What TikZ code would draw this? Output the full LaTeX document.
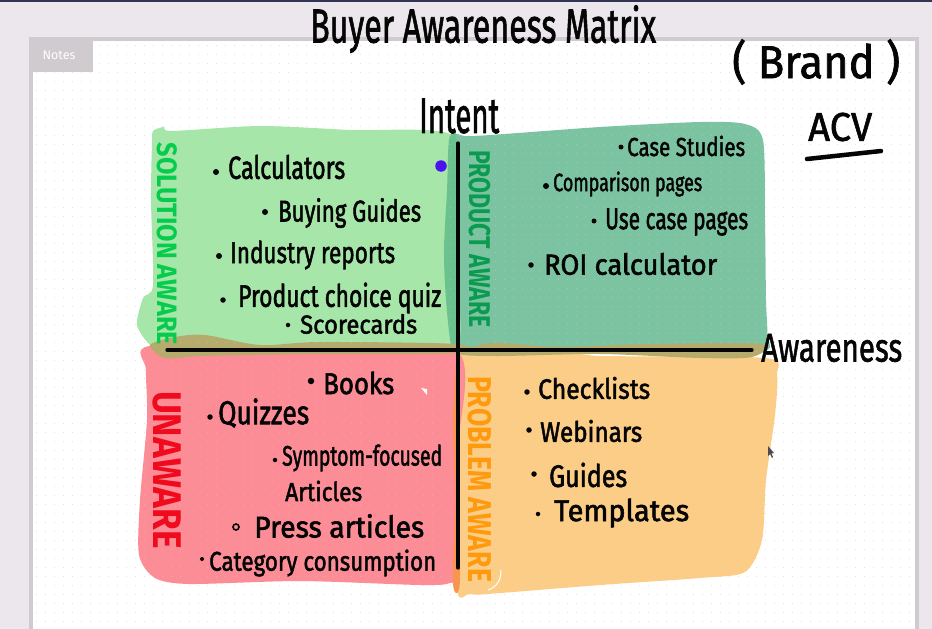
\documentclass[tikz,border=0pt]{standalone}
\usepackage{fontspec}
\usepackage{graphicx}
\setmainfont{Fira Sans}
\newfontfamily\handf{Fira Sans}[FakeBold=2]
\newfontfamily\headf{Fira Sans}[FakeBold=1.6]
\definecolor{pagebg}{HTML}{EBE7EC}
\definecolor{framec}{HTML}{CFCBCF}
\definecolor{dotc}{HTML}{C9C9C9}
\definecolor{gfill}{HTML}{A6E6A9}
\definecolor{tfill}{HTML}{7CC3A2}
\definecolor{rfill}{HTML}{FC8C95}
\definecolor{ofill}{HTML}{FBCD86}
\definecolor{gtover}{HTML}{6CC28F}
\definecolor{olive}{HTML}{B5AB6C}
\definecolor{orover}{HTML}{F99451}
\definecolor{ink}{HTML}{050505}
\definecolor{lsol}{HTML}{05CC4C}
\definecolor{lprod}{HTML}{0A9A50}
\definecolor{lun}{HTML}{F00A1E}
\definecolor{lprob}{HTML}{FF9A0E}
\definecolor{marker}{HTML}{4B12F0}
\tikzset{
  hand/.style={anchor=west,inner sep=0pt,text=ink},
  side/.style={anchor=center,inner sep=0pt,rotate=-90,font=\bfseries},
  bul/.style={circle,fill=ink,inner sep=0pt,minimum size=#1},
  axis/.style={draw=ink,line width=3.2pt,line cap=round},
}
% name, x, y, width, size, text
\newcommand{\hw}[6]{\node[hand] (#1) at (#2,#3) {\handf\fontsize{#5}{#5}\selectfont\resizebox{#4pt}{\height}{#6}};}
\newcommand{\hd}[6]{\node[hand] (#1) at (#2,#3) {\headf\fontsize{#5}{#5}\selectfont\resizebox{#4pt}{\height}{#6}};}
% name, x, ymid, length, size, colour, text
\newcommand{\sd}[7]{\node[side,text=#6] (#1) at (#2,#3) {\fontsize{#5}{#5}\selectfont\resizebox{#4pt}{\height}{#7}};}
\begin{document}
\begin{tikzpicture}[x=1pt,y=-1pt]
\useasboundingbox (0,0) rectangle (932,629);
\fill[pagebg] (0,0) rectangle (932,629);
\fill[black!85!blue!80] (0,0) rectangle (932,1.5);
% board
\fill[framec] (29,37) rectangle (919,629);
\fill[white] (33,41) rectangle (915,629);
\fill[framec] (29,37) rectangle (93,72);
% quadrant fills
\fill[ofill] plot[smooth cycle,tension=.45] coordinates {(458,352) (600,356) (765,358) (777,375) (775,415) (766,480) (762,540) (745,572) (700,578) (600,585) (500,593) (470,594) (456,580)};
\fill[rfill] plot[smooth cycle,tension=.45] coordinates {(150,346) (300,348) (456,350) (458,450) (458,570) (450,583) (420,585) (300,581) (190,584) (155,578) (139,555) (140,500) (147,420) (146,370)};
\fill[tfill] plot[smooth cycle,tension=.45] coordinates {(449,140) (458,134) (475,136) (600,127) (700,122) (745,124) (763,140) (765,220) (766,300) (767,335) (758,352) (600,350) (470,352) (452,345) (445,300) (445,200)};
\fill[gfill] plot[smooth cycle,tension=.45] coordinates {(152,142) (153,131) (164,127) (172,131) (260,126) (350,130) (452,135) (452,200) (450,260) (453,348) (300,346) (165,351) (150,345) (137,325) (143,298) (153,285) (151,200)};
% overlaps
\fill[gtover] plot[smooth cycle,tension=.5] coordinates {(449,140) (456,134) (458,200) (458,300) (457,347) (451,345) (446,300) (444,250) (447,190)};
\fill[olive] plot[smooth cycle,tension=.5] coordinates {(150,345) (175,337) (205,335) (260,345) (320,342) (456,344) (456,353) (300,354) (200,356) (165,358)};
\fill[olive] plot[smooth cycle,tension=.5] coordinates {(460,354) (490,343) (560,347) (650,344) (762,344) (752,357) (700,358) (600,354) (500,356)};
\fill[orover] plot[smooth cycle,tension=.5] coordinates {(457,352) (459,360) (457,450) (460,580) (453,584) (455,500) (453,420)};
% dot grid
\foreach \yy in {45,54,...,625}
  \draw[dotc,line width=.9pt,dash pattern=on .9pt off 8.1pt,opacity=.55] (36,\yy) -- (913,\yy);
% notes label
\node[inner sep=0pt,text=white,font=\fontsize{12.5}{12.5}\selectfont] (notes) at (59,55) {Notes};
% axes
\coordinate (vtop) at (458,143);
\coordinate (vbot) at (458,568);
\coordinate (hleft) at (167,350);
\coordinate (hright) at (752,350);
\draw[axis] (vtop) -- (vbot);
\draw[axis] (hleft) -- (hright);
% headings
\hd{title}{310}{29}{346}{48}{Buyer Awareness Matrix}
\hd{brand}{732}{62}{168}{46}{( Brand )}
\hd{acv}{808}{127}{64}{40}{ACV}
\coordinate (ula) at (807,159);
\coordinate (ulb) at (881,151);
\draw[ink,line width=4.5pt,line cap=round] (ula) -- (ulb);
\hd{intent}{419}{116}{80}{50}{Intent}
\hd{aware}{761}{348}{141}{40}{Awareness}
% side labels
\sd{sola}{167}{244}{202}{28}{lsol}{SOLUTION  AWARE}
\sd{proa}{480}{239}{178}{30}{lprod}{PRODUCT  AWARE}
\sd{una}{167}{470}{158}{40}{lun}{UNAWARE}
\sd{proba}{480}{479}{206}{33}{lprob}{PROBLEM  AWARE}
% purple dot
\node[circle,fill=marker,inner sep=0pt,minimum size=11.5pt] (markerdot) at (441,166) {};
% green
\node[bul=6pt] (b1) at (216,172) {};
\hw{t1}{228}{167}{117}{32}{Calculators}
\node[bul=6pt] (b2) at (265,212) {};
\hw{t2}{278}{213}{143}{30}{Buying Guides}
\node[bul=6pt] (b3) at (219,256) {};
\hw{t3}{230}{255}{165}{30}{Industry reports}
\node[bul=5.5pt] (b4) at (223,300) {};
\hw{t4}{238}{298}{203}{31}{Product choice quiz}
\node[bul=4.5pt] (b5) at (288,325) {};
\hw{t5}{300}{324}{117}{26}{Scorecards}
% teal
\node[bul=5pt] (b6) at (621,147) {};
\hw{t6}{627}{146}{118}{26}{Case Studies}
\node[bul=6pt] (b7) at (546,186) {};
\hw{t7}{553}{184}{149}{25}{Comparison pages}
\node[bul=5pt] (b8) at (594,221) {};
\hw{t8}{605}{222}{143}{30}{Use case pages}
\node[bul=5.5pt] (b9) at (531,265) {};
\hw{t9}{544}{264}{173}{29}{ROI calculator}
% red
\node[bul=6.5pt] (b10) at (311,381) {};
\hw{t10}{323}{383}{71}{30}{Books}
\node[bul=5.5pt] (b11) at (210,417) {};
\hw{t11}{218}{413}{91}{33}{Quizzes}
\node[bul=4.5pt] (b12) at (275,460) {};
\hw{t12}{282}{458}{160}{28}{Symptom-focused}
\hw{t13}{285}{491}{77}{26}{Articles}
\node[draw=ink,circle,line width=1.6pt,inner sep=0pt,minimum size=6pt] (b14) at (236,527) {};
\hw{t14}{254}{526}{170}{30}{Press articles}
\node[bul=4pt] (b15) at (202,559) {};
\hw{t15}{209}{563}{227}{27}{Category consumption}
% orange
\node[bul=5.5pt] (b16) at (527,392) {};
\hw{t16}{538}{388}{112}{28}{Checklists}
\node[bul=5.5pt] (b17) at (529,430) {};
\hw{t17}{540}{431}{102}{28}{Webinars}
\node[bul=5.5pt] (b18) at (534,474) {};
\hw{t18}{549}{475}{78}{31}{Guides}
\node[bul=4.5pt] (b19) at (538,514) {};
\hw{t19}{554}{513}{135}{30}{Templates}
% cursor and white specks
\fill[black!70] (768,446) -- (768,456) -- (770,454) -- (772,458) -- (773,457) -- (771.5,453.5) -- (774,453) -- cycle;
\fill[white] (421,388) -- (427,389) -- (427,395) -- cycle;
\draw[white,line width=1pt] (501,570) .. controls (501,580) and (497,587) .. (488,590);
\end{tikzpicture}
\end{document}
